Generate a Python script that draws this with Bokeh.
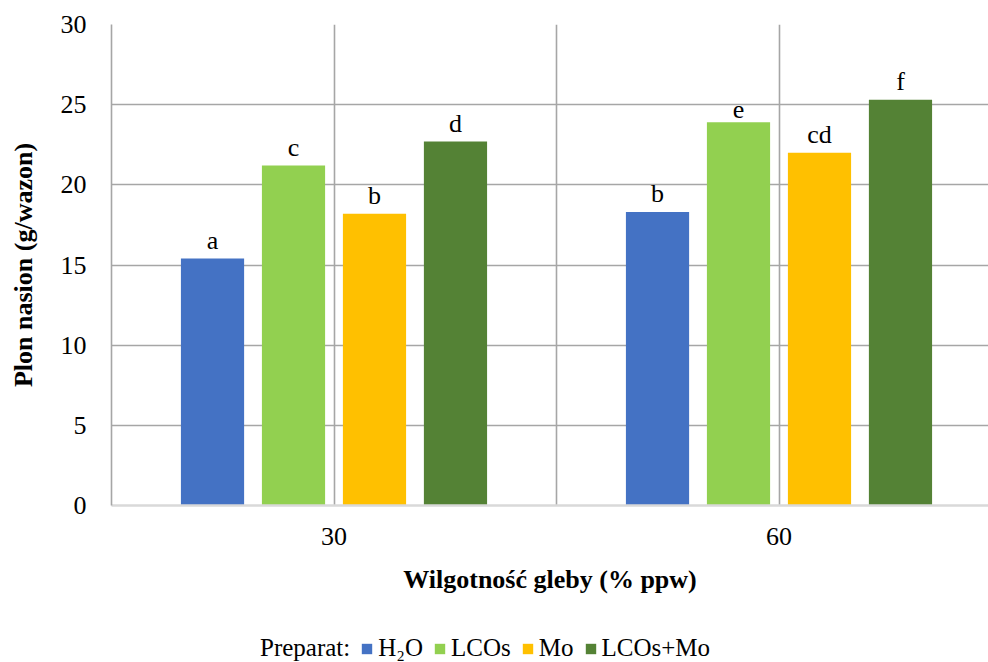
from bokeh.plotting import figure
from bokeh.layouts import column
from bokeh.models import FixedTicker, Legend, LegendItem, Range1d, ColumnDataSource
from bokeh.core.properties import value
from bokeh.embed import file_html
from bokeh.resources import INLINE

# ---- data ----
categories = ["30", "60"]
treatments = ["H\u2082O", "LCOs", "Mo", "LCOs+Mo"]
h2o = [15.4, 18.3]
lcos = [21.2, 23.9]
mo = [18.2, 22.0]
lcos_mo = [22.7, 25.3]
letters_h2o = ["a", "b"]
letters_lcos = ["c", "e"]
letters_mo = ["b", "cd"]
letters_lcos_mo = ["d", "f"]
colors = ["#4472C4", "#92D050", "#FFC000", "#548235"]
y_ticks = [0, 5, 10, 15, 20, 25, 30]
legend_title = "Preparat:"

series = [h2o, lcos, mo, lcos_mo]
letters = [letters_h2o, letters_lcos, letters_mo, letters_lcos_mo]
offsets = [-0.273, -0.091, 0.091, 0.273]
bar_w = 0.142

FONT = "Liberation Serif"
GRID = "#A6A6A6"

p = figure(width=988, height=620, output_backend="svg", toolbar_location=None,
           x_range=Range1d(0, 2 * (988 - 111) / 890), y_range=Range1d(0, 30),
           min_border_left=111, min_border_right=0, min_border_top=24,
           min_border_bottom=115)
p.outline_line_color = None
p.background_fill_color = "white"

# grids
p.xgrid.ticker = FixedTicker(ticks=[0, 0.5, 1.0, 1.5])
p.xgrid.grid_line_color = GRID
p.xgrid.grid_line_width = 1.6
p.ygrid.ticker = FixedTicker(ticks=[5, 10, 15, 20, 25, 30])
p.ygrid.grid_line_color = GRID
p.ygrid.grid_line_width = 1.6

# bars
centers = [i + 0.5 for i in range(len(categories))]
for k, (vals, labs) in enumerate(zip(series, letters)):
    xs = [c + offsets[k] for c in centers]
    src = ColumnDataSource(dict(x=xs, top=vals, lab=labs))
    p.vbar(x="x", top="top", width=bar_w, bottom=0, source=src,
           fill_color=colors[k], line_color=None)
    p.text(x="x", y="top", text="lab", source=src, text_align="center",
           text_baseline="bottom", y_offset=-4, text_font=value(FONT),
           text_font_size="26px", text_color="black")

# axes
xax = p.xaxis[0]
yax = p.yaxis[0]
xax.ticker = FixedTicker(ticks=centers)
xax.major_label_overrides = {c: lab for c, lab in zip(centers, categories)}
xax.axis_line_color = "#D9D9D9"
xax.axis_line_width = 2.5
xax.major_tick_line_color = None
xax.minor_tick_line_color = None
xax.major_label_text_font = "Times New Roman"
xax.major_label_text_font_size = "26px"
xax.major_label_text_color = "black"
xax.major_label_standoff = 16
xax.axis_label = "Wilgotność gleby (% ppw)"
xax.axis_label_text_font = "Times New Roman"
xax.axis_label_text_font_style = "bold"
xax.axis_label_text_font_size = "26px"
xax.axis_label_text_color = "black"
xax.axis_label_standoff = 17

yax.ticker = FixedTicker(ticks=y_ticks)
yax.axis_line_color = GRID
yax.axis_line_width = 1.6
yax.major_tick_line_color = None
yax.minor_tick_line_color = None
yax.major_label_text_font = "serif"
yax.major_label_text_font_size = "26px"
yax.major_label_text_color = "black"
yax.major_label_standoff = 19
yax.axis_label = "Plon nasion (g/wazon)"
yax.axis_label_text_font = "serif"
yax.axis_label_text_font_style = "bold"
yax.axis_label_text_font_size = "26px"
yax.axis_label_text_color = "black"
yax.axis_label_standoff = 20

# legend strip below the chart
lg = figure(width=988, height=42, output_backend="svg", toolbar_location=None,
            x_range=Range1d(0, 1), y_range=Range1d(0, 1), min_border=0,
            x_axis_type=None, y_axis_type=None)
lg.outline_line_color = None
dummy = lg.vbar(x=[-10], top=[0], width=0.1, fill_alpha=0, line_alpha=0)
items = [LegendItem(label=legend_title, renderers=[dummy])]
for name, c in zip(treatments, colors):
    r = lg.vbar(x=[-10], top=[0], width=0.1, fill_color=c, line_color=None)
    items.append(LegendItem(label=name, renderers=[r]))
legend = Legend(items=items, orientation="horizontal", location=(131, 0),
                label_text_font=FONT, label_text_font_size="25px",
                label_text_color="black", glyph_width=13, glyph_height=13,
                label_standoff=5, spacing=10, padding=0, margin=0,
                border_line_color=None, background_fill_alpha=0)
lg.add_layout(legend, "center")

layout = column(p, lg, spacing=0)
open("out.html", "w").write(file_html(layout, INLINE))
